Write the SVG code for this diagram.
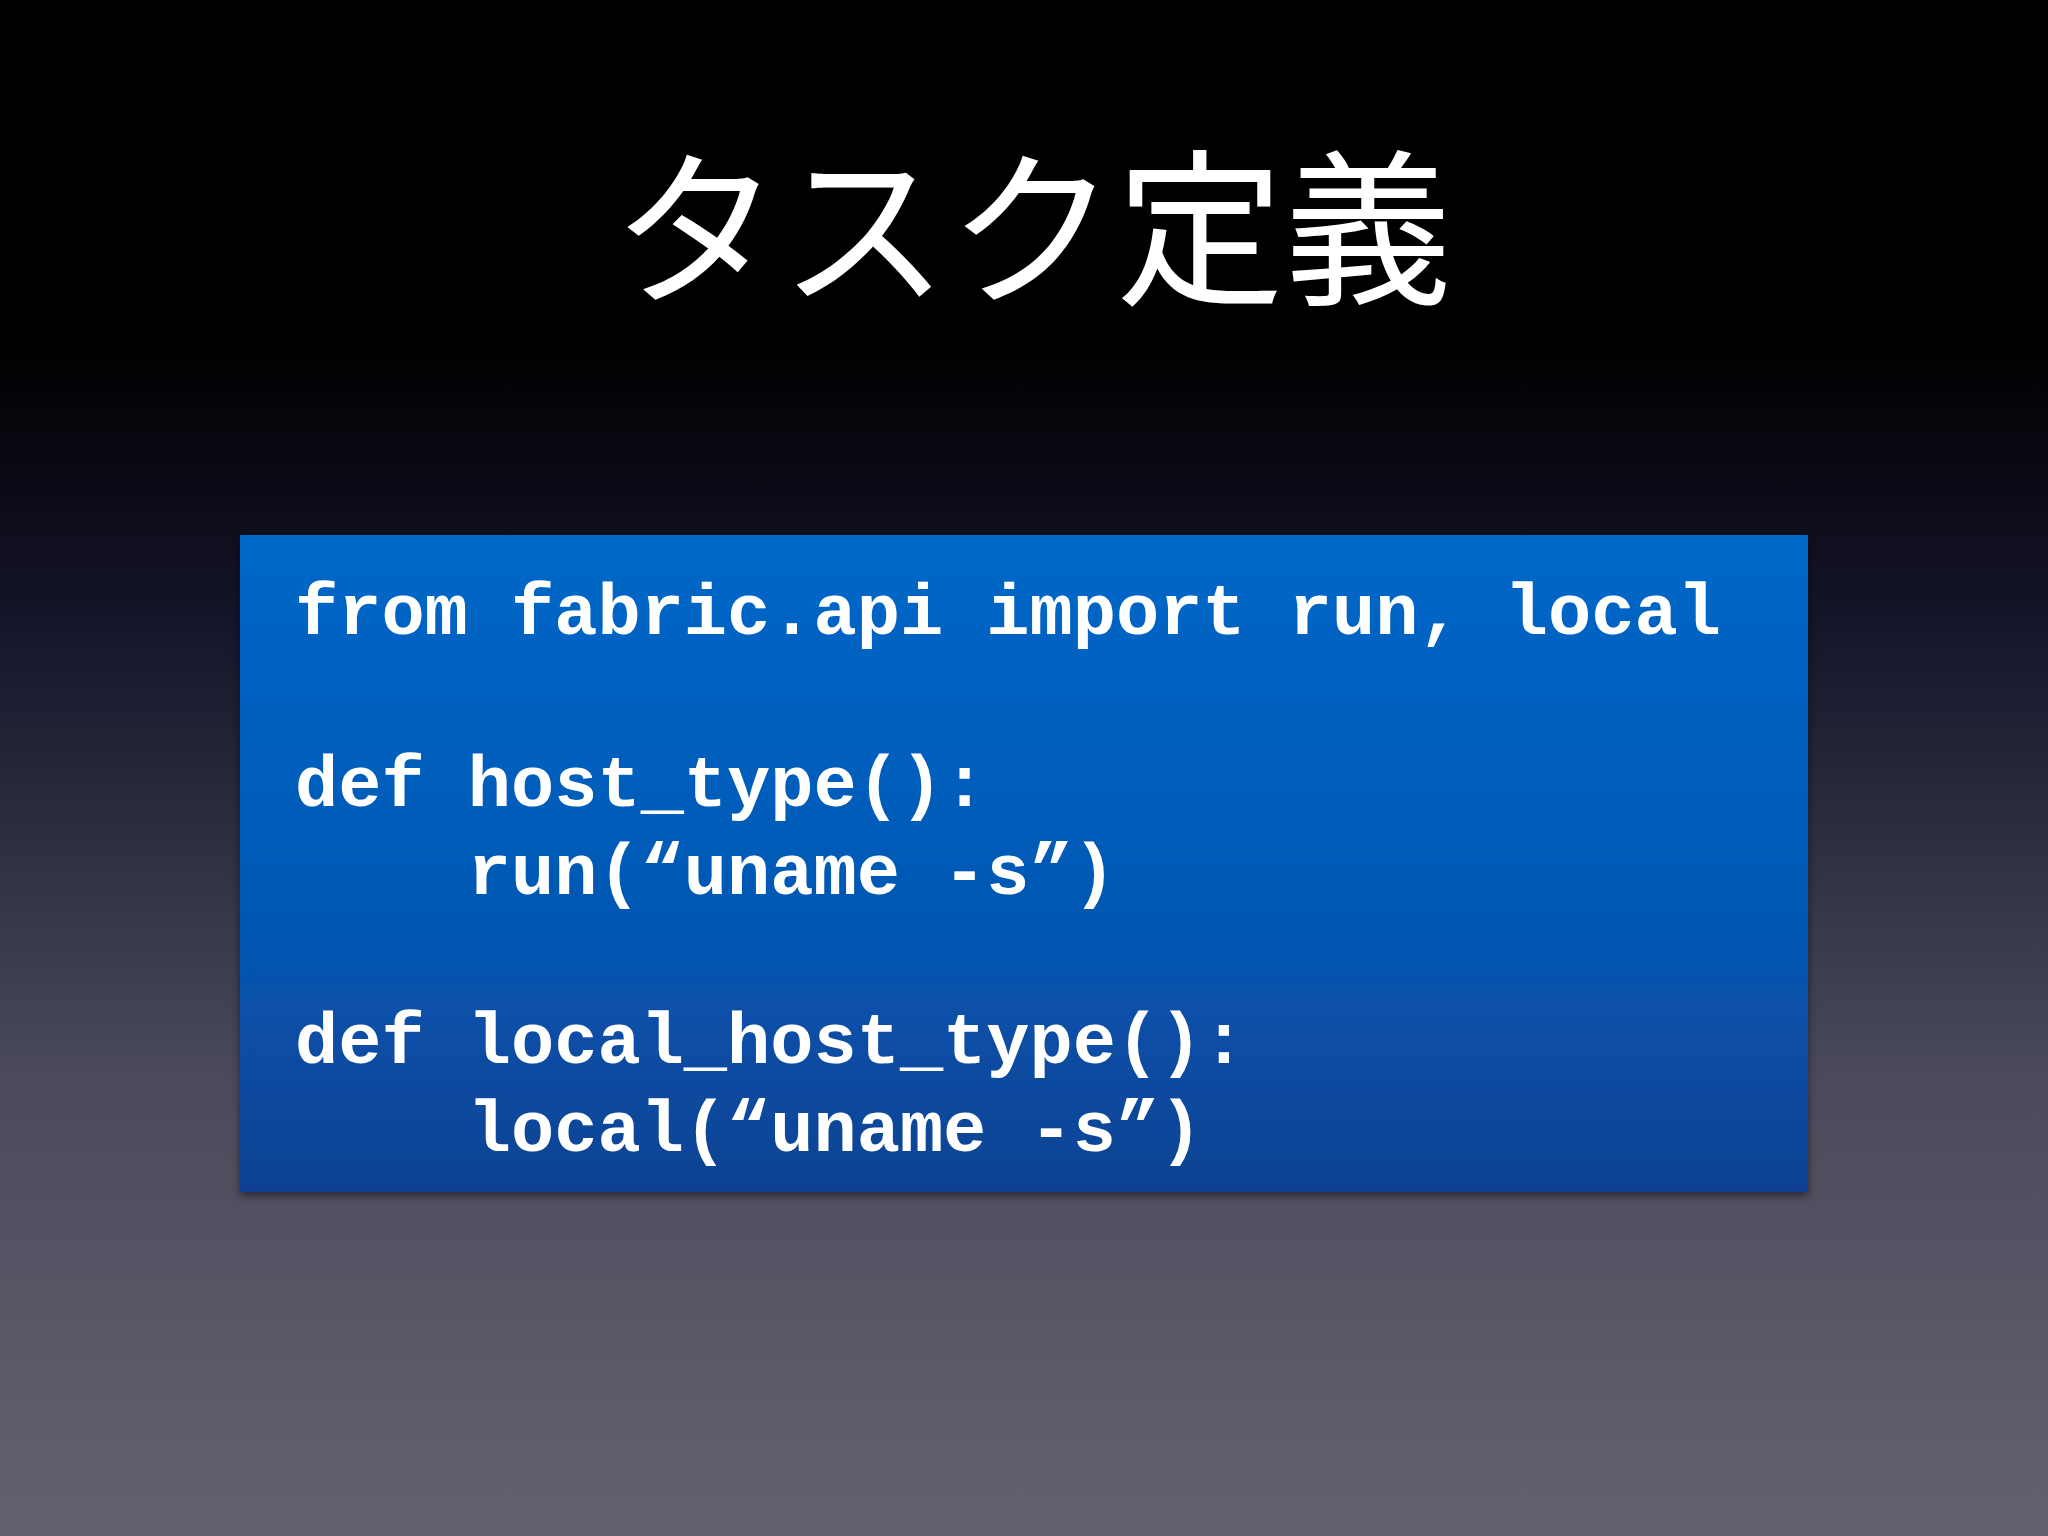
<svg xmlns="http://www.w3.org/2000/svg" width="2048" height="1536" viewBox="0 0 2048 1536">
<defs>
<linearGradient id="bg" x1="0" y1="0" x2="0" y2="1">
<stop offset="0" stop-color="#000"/>
<stop offset="0.22" stop-color="#000"/>
<stop offset="0.4" stop-color="#14142a"/>
<stop offset="0.7" stop-color="#4a4a5c"/>
<stop offset="1" stop-color="#62626f"/>
</linearGradient>
<linearGradient id="box" x1="0" y1="0" x2="0" y2="1">
<stop offset="0" stop-color="#0068c8"/>
<stop offset="0.6" stop-color="#0557b3"/>
<stop offset="1" stop-color="#0c4192"/>
</linearGradient>
<filter id="sh" x="-5%" y="-5%" width="110%" height="115%"><feDropShadow dx="0" dy="4" stdDeviation="5" flood-color="#000" flood-opacity="0.5"/></filter>
<style>
.code{font-family:"Liberation Mono","DejaVu Sans Mono",monospace;font-weight:bold;font-size:72px;fill:#fff;white-space:pre}
</style>
</defs>
<rect width="2048" height="1536" fill="url(#bg)"/>
<g id="title"><text x="1032" y="292" text-anchor="middle" font-family="Noto Sans CJK JP, sans-serif" font-size="168" fill="#fff">タスク定義</text></g>
<g id="codebox">
<rect x="240" y="535" width="1568" height="657" fill="url(#box)" filter="url(#sh)"/>
<text class="code" x="295" y="634">from fabric.api import run, local</text>
<text class="code" x="295" y="806">def host_type():</text>
<text class="code" x="295" y="894">    run(“uname -s”)</text>
<text class="code" x="295" y="1063">def local_host_type():</text>
<text class="code" x="295" y="1151">    local(“uname -s”)</text>
</g>
</svg>
